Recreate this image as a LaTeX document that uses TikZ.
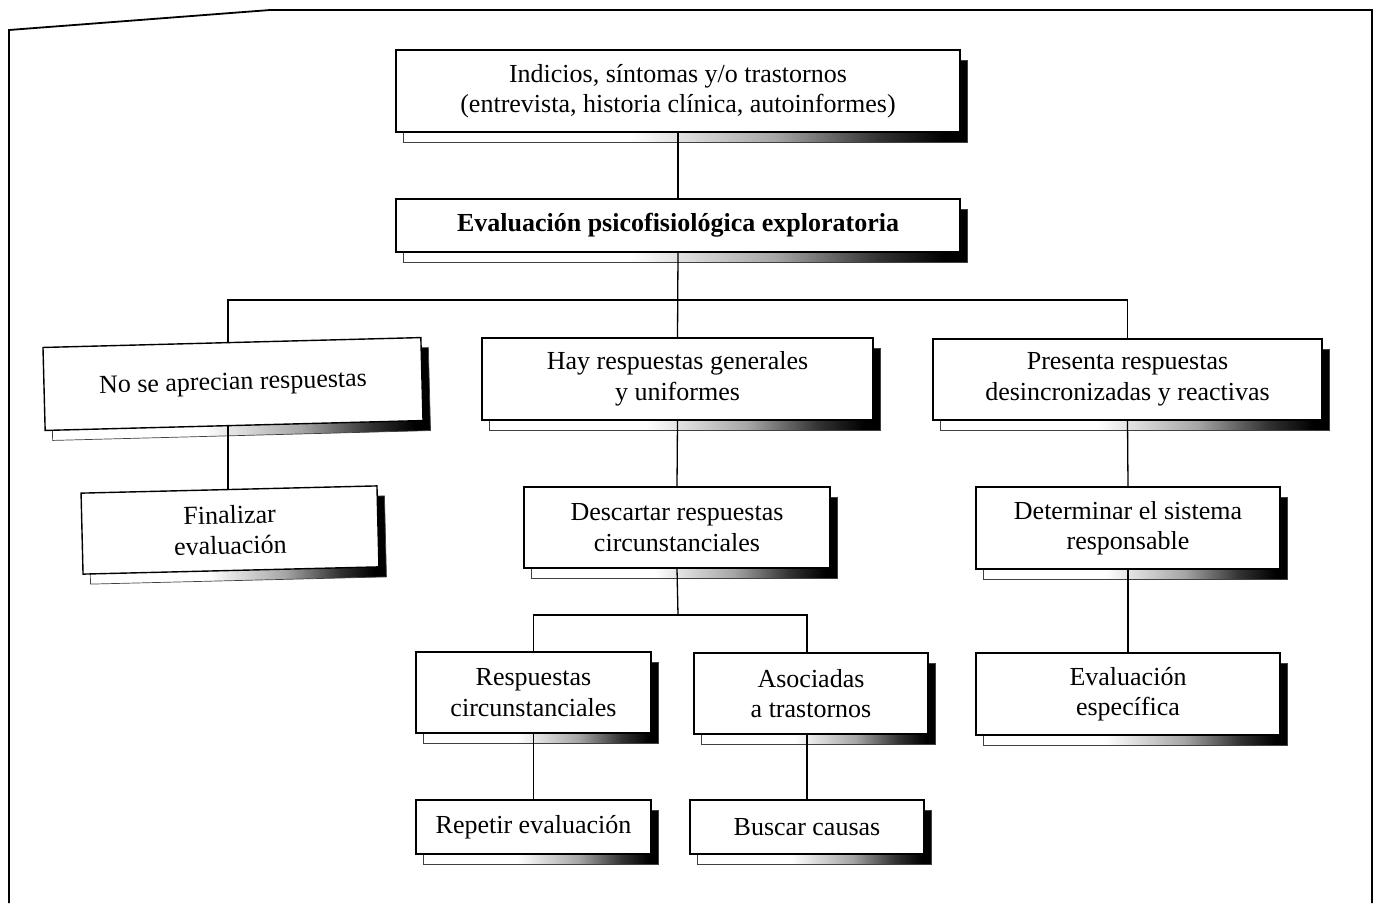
\documentclass[tikz,border=0pt]{standalone}
\usepackage{fontspec}
\setmainfont{Liberation Serif}
\usetikzlibrary{shadows}
\pgfdeclarehorizontalshading{shd}{100bp}{color(0bp)=(white); color(25bp)=(white); color(45bp)=(white); color(58bp)=(black!35); color(67bp)=(black!80); color(73bp)=(black); color(100bp)=(black)}
\tikzset{
  box/.style={draw=black, line width=1.4pt, fill=white, inner sep=0pt, align=center,
    font=\fontsize{26}{30.5}\selectfont,
    general shadow={shadow xshift=7.5pt, shadow yshift=-10pt, shade, shading=shd, draw=black!75, line width=0.7pt}},
  conn/.style={line width=1.3pt, draw=black}
}
\begin{document}
\begin{tikzpicture}[x=1pt,y=-1pt]
\useasboundingbox (0,0) rectangle (1378,903);
\draw[line width=1.8pt] (9,903) -- (9,30) -- (270,10) -- (1372,10) -- (1372,903);

\node[box, minimum width=564, minimum height=82] (b1) at (678,91) {Indicios, síntomas y/o trastornos\\(entrevista, historia clínica, autoinformes)};
\node[box, minimum width=564, minimum height=53] (b2) at (678,225.5) {\bfseries Evaluación psicofisiológica exploratoria};
\node[box, minimum width=378, minimum height=83, rotate=1.5] (b3) at (233,384) {No se aprecian respuestas};
\node[box, minimum width=391, minimum height=82] (b4) at (677.5,379) {Hay respuestas generales\\y uniformes};
\node[box, minimum width=389, minimum height=81] (b5) at (1127.5,379.5) {Presenta respuestas\\desincronizadas y reactivas};
\node[box, minimum width=296, minimum height=81, rotate=1.4] (b6) at (230,530) {Finalizar\\evaluación};
\node[box, minimum width=306, minimum height=81] (b7) at (677,527.5) {Descartar respuestas\\circunstanciales};
\node[box, minimum width=304, minimum height=82] (b8) at (1128,528) {Determinar el sistema\\responsable};
\node[box, minimum width=235, minimum height=81] (b9) at (533.5,692.5) {Respuestas\\circunstanciales};
\node[box, minimum width=234, minimum height=81] (b10) at (811,693.5) {Asociadas\\a trastornos};
\node[box, minimum width=304, minimum height=82] (b11) at (1128,694) {Evaluación\\específica};
\node[box, minimum width=235, minimum height=54] (b12) at (533.5,827) {Repetir evaluación};
\node[box, minimum width=234, minimum height=54] (b13) at (807,827) {Buscar causas};

\coordinate (j1) at (678,300);
\coordinate (j3) at (228,300);
\coordinate (j2) at (678,615);
\coordinate (j4) at (807,615);

\draw[conn] (b1.south) -- (b2.north);
\draw[conn] (b2.south) -- (b4.north);
\draw[conn] (j3 |- b3.north) -- (j3) -- (j1) -| (b5.north);
\draw[conn] (j3 |- b3.south) -- (j3 |- b6.north);
\draw[conn] (b4.south) -- (b7.north);
\draw[conn] (b7.south) -- (j2);
\draw[conn] (b9.north) |- (j2) -- (j4) -- (j4 |- b10.north);
\draw[conn] (b5.south) -- (b8.north);
\draw[conn] (b8.south) -- (b11.north);
\draw[conn] (b9.south) -- (b12.north);
\draw[conn] (j4 |- b10.south) -- (b13.north);
\end{tikzpicture}
\end{document}
